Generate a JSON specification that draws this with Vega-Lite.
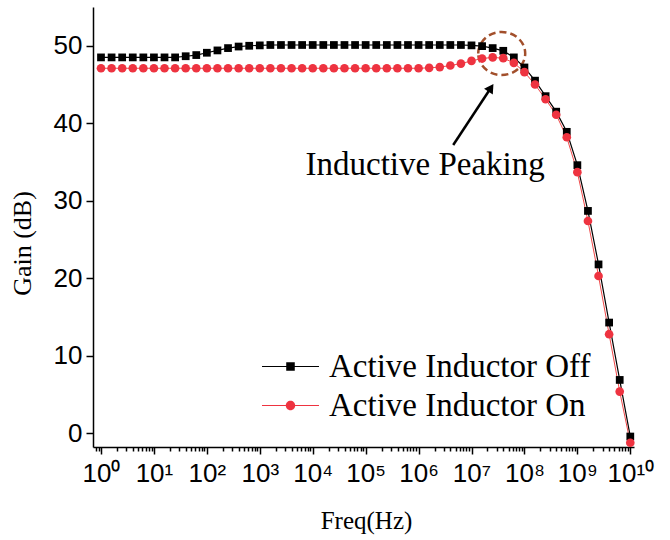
{
  "$schema": "https://vega.github.io/schema/vega-lite/v6.json",
  "width": 541,
  "height": 440,
  "autosize": "none",
  "padding": {"left": 93, "top": 7, "right": 36, "bottom": 93},
  "background": "white",
  "config": {
    "view": {"stroke": null},
    "axis": {"grid": false, "domainColor": "black", "domainWidth": 1.5, "tickColor": "black", "tickWidth": 1.5, "labelColor": "black", "titleColor": "black", "labelFont": "Liberation Sans", "titleFont": "Liberation Serif", "titleFontWeight": "normal"}
  },
  "datasets": {
    "d": [
      {"f": 1, "s": "Active Inductor Off", "g": 48.5},
      {"f": 1.585, "s": "Active Inductor Off", "g": 48.5},
      {"f": 2.512, "s": "Active Inductor Off", "g": 48.5},
      {"f": 3.981, "s": "Active Inductor Off", "g": 48.5},
      {"f": 6.31, "s": "Active Inductor Off", "g": 48.5},
      {"f": 10, "s": "Active Inductor Off", "g": 48.5},
      {"f": 15.85, "s": "Active Inductor Off", "g": 48.5},
      {"f": 25.12, "s": "Active Inductor Off", "g": 48.5},
      {"f": 39.81, "s": "Active Inductor Off", "g": 48.65},
      {"f": 63.1, "s": "Active Inductor Off", "g": 48.8},
      {"f": 100, "s": "Active Inductor Off", "g": 49.1},
      {"f": 158.5, "s": "Active Inductor Off", "g": 49.4},
      {"f": 251.2, "s": "Active Inductor Off", "g": 49.7},
      {"f": 398.1, "s": "Active Inductor Off", "g": 49.9},
      {"f": 631, "s": "Active Inductor Off", "g": 50.0},
      {"f": 1000, "s": "Active Inductor Off", "g": 50.05},
      {"f": 1585, "s": "Active Inductor Off", "g": 50.1},
      {"f": 2512, "s": "Active Inductor Off", "g": 50.1},
      {"f": 3981, "s": "Active Inductor Off", "g": 50.1},
      {"f": 6310, "s": "Active Inductor Off", "g": 50.1},
      {"f": 1e4, "s": "Active Inductor Off", "g": 50.1},
      {"f": 1.585e4, "s": "Active Inductor Off", "g": 50.1},
      {"f": 2.512e4, "s": "Active Inductor Off", "g": 50.1},
      {"f": 3.981e4, "s": "Active Inductor Off", "g": 50.1},
      {"f": 6.31e4, "s": "Active Inductor Off", "g": 50.1},
      {"f": 1e5, "s": "Active Inductor Off", "g": 50.1},
      {"f": 1.585e5, "s": "Active Inductor Off", "g": 50.1},
      {"f": 2.512e5, "s": "Active Inductor Off", "g": 50.1},
      {"f": 3.981e5, "s": "Active Inductor Off", "g": 50.1},
      {"f": 6.31e5, "s": "Active Inductor Off", "g": 50.1},
      {"f": 1e6, "s": "Active Inductor Off", "g": 50.1},
      {"f": 1.585e6, "s": "Active Inductor Off", "g": 50.1},
      {"f": 2.512e6, "s": "Active Inductor Off", "g": 50.1},
      {"f": 3.981e6, "s": "Active Inductor Off", "g": 50.1},
      {"f": 6.31e6, "s": "Active Inductor Off", "g": 50.1},
      {"f": 1e7, "s": "Active Inductor Off", "g": 50.05},
      {"f": 1.585e7, "s": "Active Inductor Off", "g": 49.95},
      {"f": 2.512e7, "s": "Active Inductor Off", "g": 49.7},
      {"f": 3.981e7, "s": "Active Inductor Off", "g": 49.35},
      {"f": 6.31e7, "s": "Active Inductor Off", "g": 48.5},
      {"f": 1e8, "s": "Active Inductor Off", "g": 47.2},
      {"f": 1.585e8, "s": "Active Inductor Off", "g": 45.5},
      {"f": 2.512e8, "s": "Active Inductor Off", "g": 43.5},
      {"f": 3.981e8, "s": "Active Inductor Off", "g": 41.5},
      {"f": 6.31e8, "s": "Active Inductor Off", "g": 38.9},
      {"f": 1e9, "s": "Active Inductor Off", "g": 34.6},
      {"f": 1.585e9, "s": "Active Inductor Off", "g": 28.7},
      {"f": 2.512e9, "s": "Active Inductor Off", "g": 21.8},
      {"f": 3.981e9, "s": "Active Inductor Off", "g": 14.3},
      {"f": 6.31e9, "s": "Active Inductor Off", "g": 6.9},
      {"f": 1e10, "s": "Active Inductor Off", "g": -0.4},
      {"f": 1, "s": "Active Inductor On", "g": 47.1},
      {"f": 1.585, "s": "Active Inductor On", "g": 47.1},
      {"f": 2.512, "s": "Active Inductor On", "g": 47.1},
      {"f": 3.981, "s": "Active Inductor On", "g": 47.1},
      {"f": 6.31, "s": "Active Inductor On", "g": 47.1},
      {"f": 10, "s": "Active Inductor On", "g": 47.1},
      {"f": 15.85, "s": "Active Inductor On", "g": 47.1},
      {"f": 25.12, "s": "Active Inductor On", "g": 47.1},
      {"f": 39.81, "s": "Active Inductor On", "g": 47.1},
      {"f": 63.1, "s": "Active Inductor On", "g": 47.1},
      {"f": 100, "s": "Active Inductor On", "g": 47.1},
      {"f": 158.5, "s": "Active Inductor On", "g": 47.1},
      {"f": 251.2, "s": "Active Inductor On", "g": 47.1},
      {"f": 398.1, "s": "Active Inductor On", "g": 47.1},
      {"f": 631, "s": "Active Inductor On", "g": 47.1},
      {"f": 1000, "s": "Active Inductor On", "g": 47.1},
      {"f": 1585, "s": "Active Inductor On", "g": 47.1},
      {"f": 2512, "s": "Active Inductor On", "g": 47.1},
      {"f": 3981, "s": "Active Inductor On", "g": 47.1},
      {"f": 6310, "s": "Active Inductor On", "g": 47.1},
      {"f": 1e4, "s": "Active Inductor On", "g": 47.1},
      {"f": 1.585e4, "s": "Active Inductor On", "g": 47.1},
      {"f": 2.512e4, "s": "Active Inductor On", "g": 47.1},
      {"f": 3.981e4, "s": "Active Inductor On", "g": 47.1},
      {"f": 6.31e4, "s": "Active Inductor On", "g": 47.1},
      {"f": 1e5, "s": "Active Inductor On", "g": 47.1},
      {"f": 1.585e5, "s": "Active Inductor On", "g": 47.1},
      {"f": 2.512e5, "s": "Active Inductor On", "g": 47.1},
      {"f": 3.981e5, "s": "Active Inductor On", "g": 47.1},
      {"f": 6.31e5, "s": "Active Inductor On", "g": 47.1},
      {"f": 1e6, "s": "Active Inductor On", "g": 47.1},
      {"f": 1.585e6, "s": "Active Inductor On", "g": 47.15},
      {"f": 2.512e6, "s": "Active Inductor On", "g": 47.25},
      {"f": 3.981e6, "s": "Active Inductor On", "g": 47.45},
      {"f": 6.31e6, "s": "Active Inductor On", "g": 47.7},
      {"f": 1e7, "s": "Active Inductor On", "g": 48.05},
      {"f": 1.585e7, "s": "Active Inductor On", "g": 48.35},
      {"f": 2.512e7, "s": "Active Inductor On", "g": 48.5},
      {"f": 3.981e7, "s": "Active Inductor On", "g": 48.4},
      {"f": 6.31e7, "s": "Active Inductor On", "g": 47.8},
      {"f": 1e8, "s": "Active Inductor On", "g": 46.6},
      {"f": 1.585e8, "s": "Active Inductor On", "g": 45.0},
      {"f": 2.512e8, "s": "Active Inductor On", "g": 43.1},
      {"f": 3.981e8, "s": "Active Inductor On", "g": 41.1},
      {"f": 6.31e8, "s": "Active Inductor On", "g": 38.2},
      {"f": 1e9, "s": "Active Inductor On", "g": 33.7},
      {"f": 1.585e9, "s": "Active Inductor On", "g": 27.4},
      {"f": 2.512e9, "s": "Active Inductor On", "g": 20.3},
      {"f": 3.981e9, "s": "Active Inductor On", "g": 12.8},
      {"f": 6.31e9, "s": "Active Inductor On", "g": 5.4},
      {"f": 1e10, "s": "Active Inductor On", "g": -1.2}
    ],
    "note": [{"label": "Inductive Peaking"}]
  },
  "layer": [
    {
      "data": {"name": "d"},
      "transform": [{"filter": "datum.s === 'Active Inductor Off'"}],
      "mark": {"type": "line", "color": "black", "strokeWidth": 1.2},
      "encoding": {
        "x": {
          "field": "f",
          "type": "quantitative",
          "scale": {"type": "log", "domain": [0.706, 1.175e10], "nice": false},
          "axis": {
            "title": "Freq(Hz)",
            "tickCount": 100,
            "labelOverlap": false,
            "labelFlush": false,
            "labelExpr": "abs(log(datum.value)/LN10 - round(log(datum.value)/LN10)) < 0.001 ? '10' + ['⁰','¹','²','³','⁴','⁵','⁶','⁷','⁸','⁹','¹⁰'][round(log(datum.value)/LN10)] : ''",
            "tickSize": {"condition": {"test": "abs(log(datum.value)/LN10 - round(log(datum.value)/LN10)) < 0.001", "value": 7}, "value": 4},
            "labelFontSize": 26,
            "labelPadding": 6,
            "titleFontSize": 25,
            "titleX": 273,
            "titleY": 73,
            "titleBaseline": "middle"
          }
        },
        "y": {
          "field": "g",
          "type": "quantitative",
          "scale": {"domain": [-1.75, 55], "nice": false, "zero": false},
          "axis": {
            "title": "Gain (dB)",
            "values": [0, 5, 10, 15, 20, 25, 30, 35, 40, 45, 50, 55],
            "labelExpr": "datum.value % 10 === 0 ? datum.label : ''",
            "tickSize": {"condition": {"test": "datum.value % 10 === 0", "value": 7}, "value": 4},
            "labelFontSize": 26,
            "labelPadding": 4,
            "titleFontSize": 26,
            "titleX": -71,
            "titleY": 236,
            "titleAngle": -90,
            "titleAlign": "center",
            "titleBaseline": "middle"
          }
        }
      }
    },
    {
      "data": {"name": "d"},
      "transform": [{"filter": "datum.s === 'Active Inductor On'"}],
      "mark": {"type": "line", "color": "#f04848", "strokeWidth": 1},
      "encoding": {"x": {"field": "f", "type": "quantitative"}, "y": {"field": "g", "type": "quantitative"}}
    },
    {
      "data": {"name": "note"},
      "mark": {"type": "point", "shape": "M-1,0A1,0.915,0,1,1,1,0A1,0.915,0,1,1,-1,0Z", "size": 2209, "filled": false, "stroke": "#a24f2b", "strokeWidth": 2.5, "strokeDash": [7, 4], "opacity": 1},
      "encoding": {"x": {"datum": 37200000, "type": "quantitative"}, "y": {"datum": 49.0, "type": "quantitative"}}
    },
    {
      "data": {"name": "note"},
      "mark": {"type": "rule", "strokeWidth": 2.5, "color": "black"},
      "encoding": {"x": {"datum": 4510000, "type": "quantitative"}, "y": {"datum": 37.2, "type": "quantitative"}, "x2": {"datum": 23300000}, "y2": {"datum": 44.58}}
    },
    {
      "data": {"name": "note"},
      "mark": {"type": "point", "shape": "triangle-up", "angle": 33.5, "size": 110, "filled": true, "color": "black", "opacity": 1},
      "encoding": {"x": {"datum": 23300000, "type": "quantitative"}, "y": {"datum": 44.58, "type": "quantitative"}}
    },
    {
      "data": {"name": "note"},
      "mark": {"type": "text", "font": "Liberation Serif", "fontSize": 33, "align": "center", "baseline": "alphabetic", "color": "black"},
      "encoding": {"x": {"datum": 1330000, "type": "quantitative"}, "y": {"datum": 33.35, "type": "quantitative"}, "text": {"field": "label"}}
    },
    {
      "data": {"name": "d"},
      "transform": [{"filter": "datum.s === 'Active Inductor Off'"}],
      "mark": {"type": "point", "shape": "square", "size": 60, "filled": true, "color": "black", "opacity": 1},
      "encoding": {"x": {"field": "f", "type": "quantitative"}, "y": {"field": "g", "type": "quantitative"}}
    },
    {
      "data": {"name": "d"},
      "transform": [{"filter": "datum.s === 'Active Inductor On'"}],
      "mark": {"type": "point", "shape": "circle", "size": 75, "filled": true, "color": "#ee3340", "opacity": 1},
      "encoding": {"x": {"field": "f", "type": "quantitative"}, "y": {"field": "g", "type": "quantitative"}}
    },
    {
      "data": {"name": "d"},
      "mark": {"type": "point", "filled": true, "opacity": 0},
      "encoding": {
        "x": {"field": "f", "type": "quantitative"},
        "y": {"field": "g", "type": "quantitative"},
        "color": {
          "field": "s", "type": "nominal",
          "scale": {"domain": ["Active Inductor Off", "Active Inductor On"], "range": ["black", "#ee3340"]},
          "legend": {"orient": "none", "legendX": 181, "legendY": 343, "title": null, "symbolSize": 81, "symbolOpacity": 1, "symbolStrokeWidth": 0, "labelFont": "Liberation Serif", "labelFontSize": 33, "labelColor": "black", "labelOffset": 22, "labelLimit": 500, "rowPadding": 5, "padding": 0}
        },
        "shape": {
          "field": "s", "type": "nominal",
          "scale": {"domain": ["Active Inductor Off", "Active Inductor On"], "range": ["M-6.33,-0.12H6.33V0.12H-6.33Z M-0.95,-0.95H0.95V0.95H-0.95Z", "M-6.33,-0.12H6.33V0.12H-6.33Z M-1.05,0A1.05,1.05,0,1,1,1.05,0A1.05,1.05,0,1,1,-1.05,0Z"]},
          "legend": {"orient": "none", "legendX": 181, "legendY": 343, "title": null, "symbolSize": 81, "symbolOpacity": 1, "symbolStrokeWidth": 0, "labelFont": "Liberation Serif", "labelFontSize": 33, "labelColor": "black", "labelOffset": 22, "labelLimit": 500, "rowPadding": 5, "padding": 0}
        }
      }
    }
  ]
}
